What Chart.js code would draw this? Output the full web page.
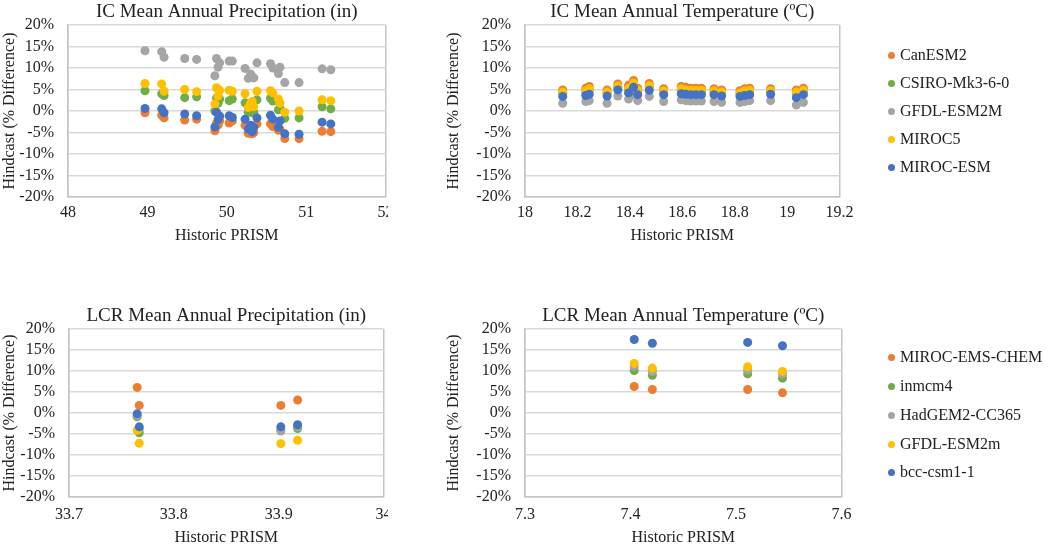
<!DOCTYPE html>
<html>
<head>
<meta charset="utf-8">
<title>Hindcast vs Historic PRISM</title>
<script src="https://cdn.jsdelivr.net/npm/chart.js@4.4.1/dist/chart.umd.min.js"></script>
<style>
  html, body { margin: 0; padding: 0; background: #fff; }
  body {
    width: 1050px; height: 551px; position: relative; overflow: hidden;
    font-family: 'Liberation Serif', 'Times New Roman', serif; color: #222;
  }
  .panel { position: absolute; background: #fff; }
  .panel canvas { display: block; }
  .legend-item {
    position: absolute; left: 886px; height: 20px; line-height: 20px;
    font-size: 16px; white-space: nowrap;
  }
  .legend-item .dot {
    position: absolute; left: 2px; top: 6.5px; width: 7px; height: 7px; border-radius: 50%;
  }
  .legend-item .name { position: absolute; left: 14px; top: 0; }
</style>
</head>
<body>
<div class="panel" id="ic-precip"><canvas></canvas></div>
<div class="panel" id="ic-temp"><canvas></canvas></div>
<div class="panel" id="lcr-precip"><canvas></canvas></div>
<div class="panel" id="lcr-temp"><canvas></canvas></div>
<div id="legends"></div>

<script>
// Hindcast (% difference) against historic PRISM, four scatter panels

const icModels = ['CanESM2', 'CSIRO-Mk3-6-0', 'GFDL-ESM2M', 'MIROC5', 'MIROC-ESM'];
const lcrModels = ['MIROC-EMS-CHEM', 'inmcm4', 'HadGEM2-CC365', 'GFDL-ESM2m', 'bcc-csm1-1'];
const modelColors = ['#ED7D31', '#70AD47', '#A5A5A5', '#FFC000', '#4472C4'];

const pctTicks = [-20, -15, -10, -5, 0, 5, 10, 15, 20];

// IC mean annual precipitation (in)
const icPrecipTicks = [48, 49, 50, 51, 52];
const icPrecipX = [48.97, 49.18, 49.21, 49.47, 49.62, 49.85, 49.87, 49.89, 49.91, 50.03, 50.07, 50.23,
  50.27, 50.30, 50.32, 50.34, 50.38, 50.55, 50.58, 50.65, 50.67, 50.73, 50.91, 51.20, 51.31];
const icPrecipCanESM2 = [-0.4, -1.0, -1.6, -2.1, -1.9, -4.6, -2.9, -3.3, -2.3, -2.8, -2.3, -3.3,
  -5.2, -4.6, -5.3, -5.0, -3.0, -3.0, -3.6, -4.5, -4.2, -6.4, -6.4, -4.7, -4.8];
const icPrecipCsiro = [4.7, 4.0, 3.6, 3.1, 3.3, 0.0, 3.0, 1.8, 2.8, 2.4, 2.8, 1.9,
  -0.3, 0.1, -0.4, -0.3, 2.6, 3.0, 2.3, 0.3, 0.6, -1.7, -1.6, 1.0, 0.5];
const icPrecipGfdl = [14.0, 13.8, 12.5, 12.2, 12.0, 8.2, 12.2, 10.2, 11.2, 11.6, 11.6, 9.9,
  7.6, 8.6, 8.0, 7.7, 11.2, 11.0, 10.0, 8.7, 10.2, 6.6, 6.6, 9.8, 9.6];
const icPrecipMiroc5 = [6.4, 6.3, 4.6, 5.0, 4.5, 1.6, 5.4, 3.5, 4.8, 4.8, 4.6, 4.0,
  0.8, 1.8, 2.2, 1.0, 4.6, 4.7, 4.2, 2.8, 1.8, -0.3, 0.0, 2.6, 2.4];
const icPrecipMirocEsm = [0.6, 0.5, -0.4, -0.7, -1.1, -3.7, -0.3, -2.0, -1.2, -1.1, -1.5, -1.9,
  -4.2, -3.3, -4.8, -3.8, -1.6, -1.0, -1.9, -3.8, -2.3, -5.3, -5.4, -2.6, -3.0];

// IC mean annual temperature (ºC)
const icTempTicks = [18, 18.2, 18.4, 18.6, 18.8, 19, 19.2];
const icTempX = [18.144, 18.232, 18.245, 18.313, 18.354, 18.395, 18.414, 18.43, 18.474, 18.529, 18.596, 18.614,
  18.633, 18.652, 18.673, 18.721, 18.75, 18.82, 18.838, 18.857, 18.937, 19.035, 19.062];
const icTempCanESM2 = [4.9, 5.3, 5.7, 4.9, 6.3, 6.0, 7.1, 5.3, 6.4, 5.2, 5.7, 5.5,
  5.3, 5.3, 5.3, 5.2, 4.9, 4.7, 5.2, 5.3, 5.2, 4.9, 5.3];
const icTempCsiro = [4.1, 4.4, 4.9, 4.1, 5.5, 5.0, 6.2, 4.6, 5.6, 4.4, 4.9, 4.6,
  4.5, 4.5, 4.5, 4.4, 4.1, 3.9, 4.4, 4.5, 4.4, 4.1, 4.5];
const icTempGfdl = [1.8, 2.2, 2.4, 1.8, 3.5, 2.8, 3.8, 2.4, 3.4, 2.2, 2.6, 2.4,
  2.3, 2.3, 2.3, 2.2, 2.0, 2.0, 2.2, 2.4, 2.4, 1.4, 2.0];
const icTempMiroc5 = [4.4, 4.7, 5.2, 4.4, 5.8, 5.3, 6.5, 4.9, 5.9, 4.7, 5.2, 4.9,
  4.8, 4.8, 4.8, 4.7, 4.4, 4.2, 4.7, 4.8, 4.7, 4.4, 4.8];
const icTempMirocEsm = [3.4, 3.6, 3.9, 3.5, 4.9, 4.2, 5.5, 3.8, 4.8, 3.8, 4.0, 3.9,
  3.8, 3.8, 3.8, 3.8, 3.5, 3.4, 3.6, 3.8, 3.9, 3.1, 3.8];

// LCR mean annual precipitation (in)
const lcrPrecipTicks = [33.7, 33.8, 33.9, 34];
const lcrPrecipX = [33.765, 33.767, 33.902, 33.918];
const lcrPrecipMirocChem = [6.1, 1.8, 1.8, 3.1];
const lcrPrecipInmcm4 = [-0.9, -4.7, -4.0, -3.7];
const lcrPrecipHadgem = [-0.6, -3.8, -4.3, -3.3];
const lcrPrecipGfdl = [-4.1, -7.2, -7.3, -6.5];
const lcrPrecipBcc = [-0.2, -3.3, -3.3, -2.8];

// LCR mean annual temperature (ºC)
const lcrTempTicks = [7.3, 7.4, 7.5, 7.6];
const lcrTempX = [7.4035, 7.4207, 7.511, 7.544];
const lcrTempMirocChem = [6.3, 5.6, 5.6, 4.8];
const lcrTempInmcm4 = [10.1, 9.0, 9.3, 8.3];
const lcrTempHadgem = [11.1, 9.9, 10.2, 9.3];
const lcrTempGfdl = [11.8, 10.7, 11.0, 9.9];
const lcrTempBcc = [17.5, 16.6, 16.8, 16.0];

const FONT_FAMILY = "'Liberation Serif', 'Times New Roman', serif";
const TEXT_COLOR = '#222';
const GRID_COLOR = '#D9D9D9';
const BORDER_COLOR = '#C4C4C4';
const TICK_SIZE = 16;
const TITLE_SIZE = 19;

/**
 * Builds one scatter panel so that its plot area lands on the given page rectangle.
 */
function makePanel(id, { box, plot, yTitleX, xTickY, xTitleY, title, xTicks, xs, series, names }) {
  const el = document.getElementById(id);
  el.style.left = box.x + 'px';
  el.style.top = box.y + 'px';
  el.style.width = box.w + 'px';
  el.style.height = box.h + 'px';
  const canvas = el.querySelector('canvas');
  canvas.width = box.w;
  canvas.height = box.h;
  canvas.style.width = box.w + 'px';
  canvas.style.height = box.h + 'px';

  const half = TICK_SIZE * 1.2 / 2;
  const padTop = plot.t - box.y - (TITLE_SIZE * 1.2 + 2);
  const padLeft = yTitleX - box.x - half;
  const yWidth = plot.l - box.x - padLeft;
  const padRight = box.x + box.w - plot.r;
  const xHeight = xTitleY + half - plot.b;
  const padBottom = box.y + box.h - plot.b - xHeight;
  const xTickPad = xTickY - half - plot.b;

  const font = { family: FONT_FAMILY, size: TICK_SIZE, lineHeight: 1.2 };
  const last = xTicks.length - 1;

  return new Chart(canvas, {
    type: 'scatter',
    data: {
      datasets: series.map((ys, i) => ({
        label: names[i],
        data: xs.map((x, j) => ({ x, y: ys[j] })),
        backgroundColor: modelColors[i],
        borderWidth: 0,
        pointRadius: 4.5,
        // later series sit on top, as in the source chart
        order: series.length - i,
      })),
    },
    options: {
      responsive: false,
      animation: false,
      events: [],
      layout: { padding: { top: padTop, left: padLeft, right: padRight, bottom: padBottom } },
      plugins: {
        legend: { display: false },
        tooltip: { enabled: false },
        title: {
          display: true,
          text: title,
          fullSize: false,
          color: TEXT_COLOR,
          font: { family: FONT_FAMILY, size: TITLE_SIZE, weight: 'normal', lineHeight: 1.2 },
          padding: { top: 0, bottom: 2 },
        },
      },
      scales: {
        x: {
          type: 'linear',
          min: xTicks[0],
          max: xTicks[last],
          afterBuildTicks: s => { s.ticks = xTicks.map(value => ({ value })); },
          afterFit: s => { s.height = xHeight; },
          ticks: {
            padding: xTickPad, font, color: TEXT_COLOR, maxRotation: 0, autoSkip: false,
            callback: v => String(+Number(v).toFixed(2)),
          },
          grid: {
            drawTicks: false,
            lineWidth: 1.5,
            color: ctx => (ctx.index === 0 || ctx.index === last) ? BORDER_COLOR : 'rgba(0,0,0,0)',
          },
          border: { display: true, color: BORDER_COLOR, width: 1.5 },
          title: { display: true, text: 'Historic PRISM', font, color: TEXT_COLOR, padding: 0 },
        },
        y: {
          type: 'linear',
          min: pctTicks[0],
          max: pctTicks[pctTicks.length - 1],
          afterBuildTicks: s => { s.ticks = pctTicks.map(value => ({ value })); },
          afterFit: s => { s.width = yWidth; },
          ticks: { padding: 14, font, color: TEXT_COLOR, autoSkip: false, callback: v => v + '%' },
          grid: { drawTicks: false, lineWidth: 1.5, color: GRID_COLOR },
          border: { display: true, color: BORDER_COLOR, width: 1.5 },
          title: { display: true, text: 'Hindcast (% Difference)', font, color: TEXT_COLOR, padding: 0 },
        },
      },
    },
  });
}

/**
 * Writes a column of legend entries centred on the given y positions.
 */
function renderLegend(names, ys) {
  const container = document.getElementById('legends');
  names.forEach((name, i) => {
    const item = document.createElement('div');
    item.className = 'legend-item';
    item.style.top = (ys[i] - 10) + 'px';

    const dot = document.createElement('span');
    dot.className = 'dot';
    dot.style.background = modelColors[i];

    const label = document.createElement('span');
    label.className = 'name';
    label.textContent = name;

    item.appendChild(dot);
    item.appendChild(label);
    container.appendChild(item);
  });
}

makePanel('ic-precip', {
  box: { x: 0, y: 0, w: 400, h: 250 },
  plot: { l: 68, r: 387, t: 25, b: 197 },
  yTitleX: 9.5, xTickY: 213, xTitleY: 236,
  title: 'IC Mean Annual Precipitation (in)',
  xTicks: icPrecipTicks, xs: icPrecipX, names: icModels,
  series: [icPrecipCanESM2, icPrecipCsiro, icPrecipGfdl, icPrecipMiroc5, icPrecipMirocEsm],
});

makePanel('ic-temp', {
  box: { x: 388, y: 0, w: 472, h: 250 },
  plot: { l: 525, r: 844, t: 25, b: 197 },
  yTitleX: 454, xTickY: 213, xTitleY: 236,
  title: 'IC Mean Annual Temperature (ºC)',
  xTicks: icTempTicks, xs: icTempX, names: icModels,
  series: [icTempCanESM2, icTempCsiro, icTempGfdl, icTempMiroc5, icTempMirocEsm],
});

makePanel('lcr-precip', {
  box: { x: 0, y: 300, w: 400, h: 251 },
  plot: { l: 69, r: 386, t: 329, b: 497 },
  yTitleX: 9.5, xTickY: 515, xTitleY: 538,
  title: 'LCR Mean Annual Precipitation (in)',
  xTicks: lcrPrecipTicks, xs: lcrPrecipX, names: lcrModels,
  series: [lcrPrecipMirocChem, lcrPrecipInmcm4, lcrPrecipHadgem, lcrPrecipGfdl, lcrPrecipBcc],
});

makePanel('lcr-temp', {
  box: { x: 388, y: 300, w: 472, h: 251 },
  plot: { l: 525, r: 844, t: 329, b: 497 },
  yTitleX: 454, xTickY: 515, xTitleY: 538,
  title: 'LCR Mean Annual Temperature (ºC)',
  xTicks: lcrTempTicks, xs: lcrTempX, names: lcrModels,
  series: [lcrTempMirocChem, lcrTempInmcm4, lcrTempHadgem, lcrTempGfdl, lcrTempBcc],
});

renderLegend(icModels, [55, 83, 111, 139, 167]);
renderLegend(lcrModels, [357, 386, 415, 444, 472]);
</script>
</body>
</html>
